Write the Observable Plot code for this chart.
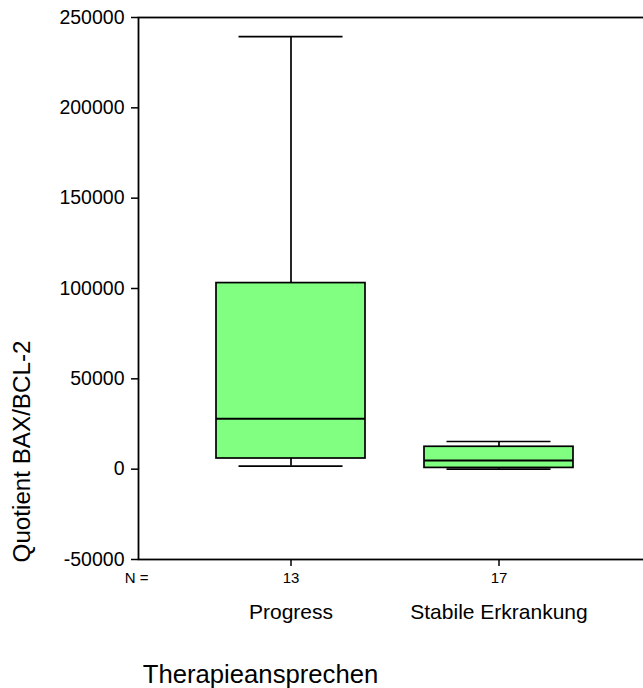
<!DOCTYPE html>
<html>
<head>
<meta charset="utf-8">
<script src="https://cdn.jsdelivr.net/npm/d3@7"></script>
<script src="https://cdn.jsdelivr.net/npm/@observablehq/plot@0.6"></script>
<style>
  html, body { margin: 0; padding: 0; background: #fff; overflow: hidden; }
  #chart svg { display: block; max-width: none; }
</style>
</head>
<body>
<div id="chart"></div>
<script>
// Box-plot summary of the BAX/BCL-2 quotient per therapy response group
const categories = ["Progress", "Stabile Erkrankung"];
const counts = [13, 17];
const whiskerLow = [1700, 0];
const q1 = [5900, 700];
const median = [27900, 4800];
const q3 = [103000, 12400];
const whiskerHigh = [239400, 15300];
const yTicks = [-50000, 0, 50000, 100000, 150000, 200000, 250000];

const rows = categories.map((c, i) => ({
  group: c,
  n: counts[i],
  lo: whiskerLow[i],
  q1: q1[i],
  med: median[i],
  q3: q3[i],
  hi: whiskerHigh[i]
}));

const font = "'Liberation Sans', Arial, Helvetica, sans-serif";
const lw = 1.7;
const capInset = 22.5;

const chart = Plot.plot({
  width: 650,
  height: 688,
  marginTop: 17,
  marginBottom: 129,
  marginLeft: 138,
  marginRight: 0,
  style: { fontFamily: font, background: "#fff", color: "#000" },
  x: { type: "band", domain: categories, paddingInner: 0.284, paddingOuter: 0.372, label: null },
  y: { domain: [-50000, 250000], label: null },
  marks: [
    // whiskers
    Plot.ruleX(rows, { x: "group", y1: "q3", y2: "hi", stroke: "#000", strokeWidth: lw }),
    Plot.ruleX(rows, { x: "group", y1: "lo", y2: "q1", stroke: "#000", strokeWidth: lw }),
    // whisker caps
    Plot.tickY(rows, { x: "group", y: "hi", stroke: "#000", strokeWidth: lw, insetLeft: capInset, insetRight: capInset }),
    Plot.tickY(rows, { x: "group", y: "lo", stroke: "#000", strokeWidth: lw, insetLeft: capInset, insetRight: capInset }),
    // boxes
    Plot.barY(rows, { x: "group", y1: "q1", y2: "q3", fill: "#80ff80", stroke: "#000", strokeWidth: lw }),
    // medians
    Plot.tickY(rows, { x: "group", y: "med", stroke: "#000", strokeWidth: 2 }),
    // frame
    Plot.frame({ stroke: "#000", strokeWidth: 1.8 }),
    // y axis
    Plot.axisY({
      ticks: yTicks,
      tickFormat: d => String(d),
      tickSize: 7,
      tickPadding: 7,
      fontSize: 19.5,
      strokeWidth: 1.5,
      label: null
    }),
    // x axis ticks
    Plot.axisX({ tickSize: 7, tickFormat: () => "", strokeWidth: 1.5, label: null }),
    // group sizes
    Plot.text(["N ="], { frameAnchor: "bottom-left", textAnchor: "middle", dx: -2, dy: 19, fontSize: 15, lineAnchor: "middle" }),
    Plot.text(rows, { x: "group", text: d => String(d.n), frameAnchor: "bottom", dy: 19, fontSize: 15, lineAnchor: "middle" }),
    // category names
    Plot.text(rows, { x: "group", text: "group", frameAnchor: "bottom", dy: 53, fontSize: 21, lineAnchor: "middle" }),
    // axis titles
    Plot.text(["Therapieansprechen"], { frameAnchor: "bottom-left", textAnchor: "middle", dx: 122, dy: 115, fontSize: 25.7, lineAnchor: "middle" }),
    Plot.text(["Quotient BAX/BCL-2"], { frameAnchor: "left", textAnchor: "middle", dx: -116, dy: 163, rotate: -90, fontSize: 24.2, lineAnchor: "middle" })
  ]
});

document.getElementById("chart").append(chart);
</script>
</body>
</html>
